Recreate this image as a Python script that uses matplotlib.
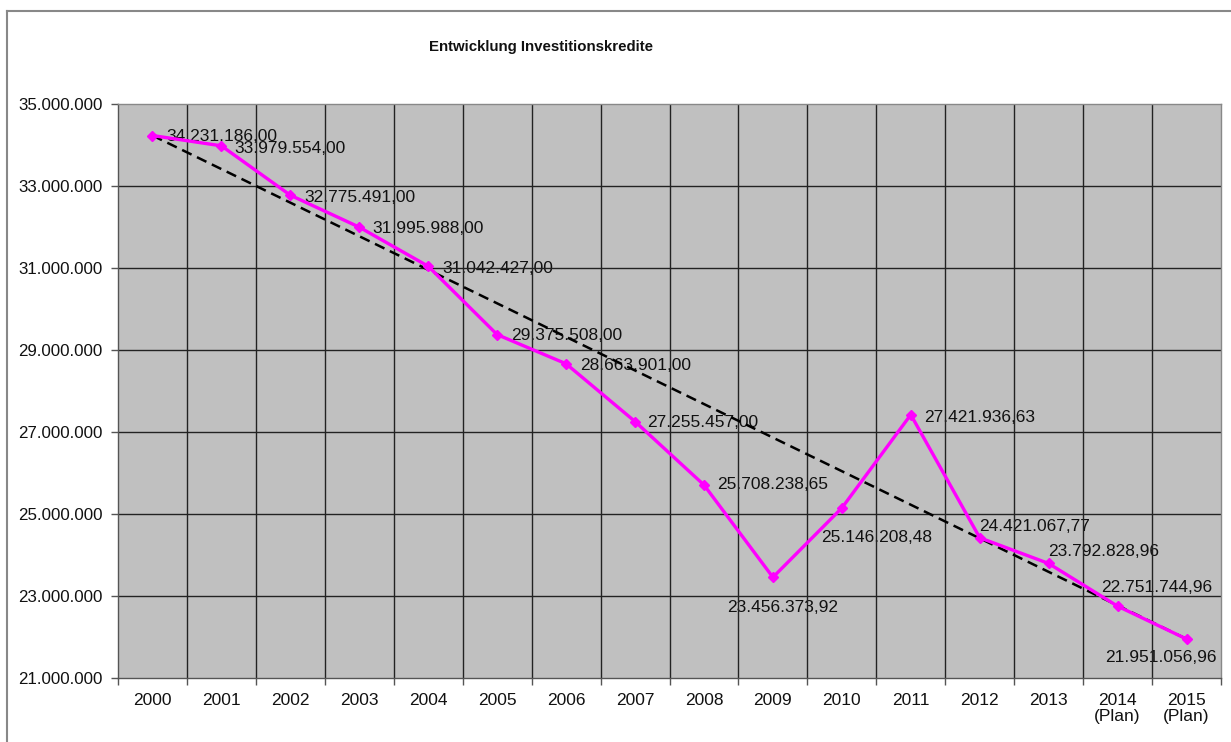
import numpy as np
import matplotlib
matplotlib.use("Agg")
import matplotlib.pyplot as plt
from matplotlib.lines import Line2D

plt.rcParams['font.family'] = ['Liberation Sans', 'DejaVu Sans']

# Investment loans per year
years = ["2000", "2001", "2002", "2003", "2004", "2005", "2006", "2007",
         "2008", "2009", "2010", "2011", "2012", "2013", "2014\n(Plan)", "2015\n(Plan)"]
values = [34231186.00, 33979554.00, 32775491.00, 31995988.00, 31042427.00,
          29375508.00, 28663901.00, 27255457.00, 25708238.65, 23456373.92,
          25146208.48, 27421936.63, 24421067.77, 23792828.96, 22751744.96,
          21951056.96]
y_ticks = [21000000, 23000000, 25000000, 27000000, 29000000, 31000000,
           33000000, 35000000]

# label placement: (dx, dy) in pixels and horizontal alignment
label_pos = [(14, -1, 'left'), (13, -3, 'left'), (14, -2, 'left'), (13, -1, 'left'),
             (14, -2, 'left'), (14, -1, 'left'), (14, -2, 'left'), (12, -1, 'left'),
             (13, 0, 'left'), (10, -30, 'center'), (35, -29, 'center'),
             (13, -3, 'left'), (-1, 11, 'left'), (-1, 12, 'left'), (-16, 19, 'left'),
             (-26, -18, 'center')]


def de_number(v, decimals):
    s = f"{v:,.{decimals}f}"
    return s.replace(",", "X").replace(".", ",").replace("X", ".")


x = np.arange(len(values))
fig = plt.figure(figsize=(12.31, 7.42), dpi=100)
ax = fig.add_axes([118 / 1231, 1 - 678 / 742, (1221 - 118) / 1231, (678 - 104) / 742])
ax.set_facecolor('#c0c0c0')

ax.set_xlim(-0.5, len(values) - 0.5)
ax.set_ylim(y_ticks[0], y_ticks[-1])

# grid: horizontal at value ticks, vertical at category boundaries
for yt in y_ticks[1:-1]:
    ax.axhline(yt, color='#222222', lw=1.0, zorder=1)
for b in np.arange(0.5, len(values) - 0.5, 1.0):
    ax.axvline(b, color='#222222', lw=1.0, zorder=1)

# trend line from the first to the last year
ax.plot([x[0], x[-1]], [values[0], values[-1]], color='black', lw=1.8,
        ls=(0, (4.2, 2.4)), zorder=2)

# data series
ax.plot(x, values, color='#ff00ff', lw=2.4, marker='D', ms=5.5, zorder=3)

for xi, v, (dx, dy, ha) in zip(x, values, label_pos):
    ax.annotate(de_number(v, 2), (xi, v), xytext=(dx, dy), textcoords='offset pixels',
                ha=ha, va='center', fontsize=12.5, color='#111111', zorder=0.8)

ax.set_yticks(y_ticks)
ax.set_yticklabels([de_number(t, 0) for t in y_ticks], fontsize=12.2, color='#111111')
ax.set_xticks(x)
ax.set_xticklabels(years, fontsize=12.5, color='#111111', linespacing=1.05)
ax.set_xticks(np.arange(-0.5, len(values), 1.0), minor=True)
ax.tick_params(axis='x', which='major', length=0, pad=11)
ax.tick_params(axis='x', which='minor', length=5, width=1, color='#555555', direction='out')
ax.tick_params(axis='y', length=5, width=1, color='#555555', pad=6)

for side in ['left', 'bottom']:
    ax.spines[side].set_color('#555555')
    ax.spines[side].set_linewidth(1.0)
for side in ['top', 'right']:
    ax.spines[side].set_color('#888888')
    ax.spines[side].set_linewidth(1.0)

fig.text(541 / 1231, 1 - 47 / 742, "Entwicklung Investitionskredite",
         fontweight='bold', fontsize=10.8, ha='center', va='center', color='#111111')

# chart area frame
fig.add_artist(Line2D([7 / 1231, 7 / 1231], [0, 1 - 11 / 742], transform=fig.transFigure,
                      color='#888888', lw=1.5))
fig.add_artist(Line2D([7 / 1231, 1], [1 - 11 / 742, 1 - 11 / 742], transform=fig.transFigure,
                      color='#888888', lw=1.5))

fig.savefig("out.png", dpi=100, facecolor='white')
